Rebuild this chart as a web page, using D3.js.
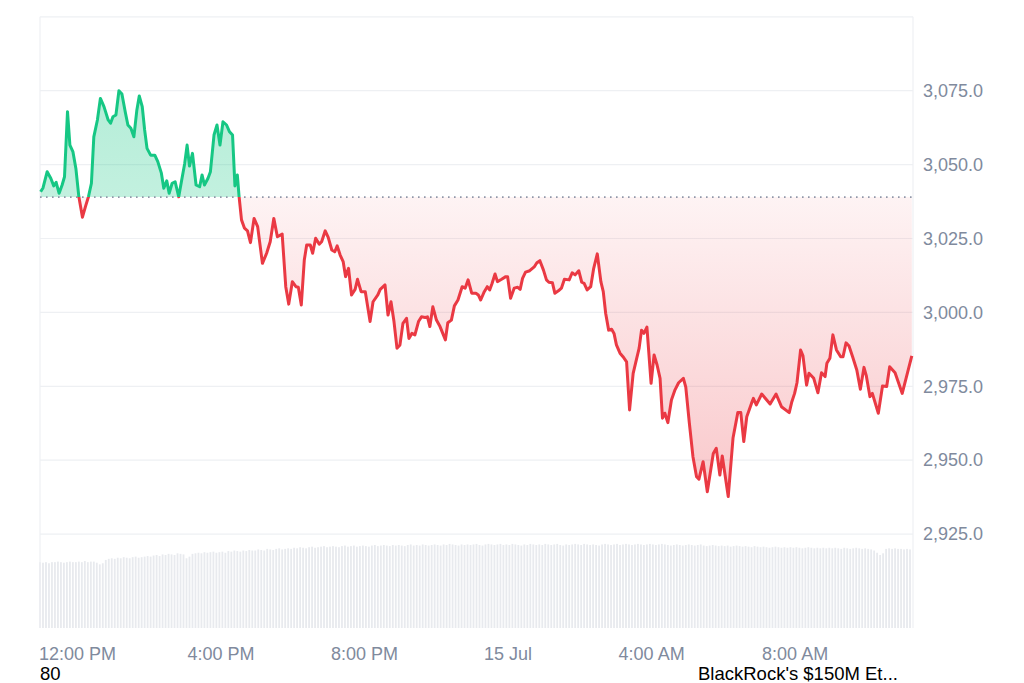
<!DOCTYPE html>
<html><head><meta charset="utf-8">
<script src="https://cdn.jsdelivr.net/npm/d3@7"></script>
<style>html,body{margin:0;padding:0;background:#fff;} svg{display:block;font-family:"Liberation Sans",Arial,Helvetica,sans-serif;}</style>
</head><body><svg id="c" width="1024" height="683"></svg>
<script>
// ---------- data ----------
const startTime = "2024-07-14T10:58:00";
const endMinutes = 1460;               // visible span in minutes
const baselinePrice = 3039.0;          // reference (dotted) price

const minutes = [1,5,12,18,23,27,32,37,41,46,50,55,60,65,71,76,81,86,90,96,101,107,114,118,122,127,132,137,143,147,152,157,162,166,171,175,179,185,192,197,203,207,212,216,221,226,232,237,242,246,250,255,261,267,271,275,281,285,291,296,301,306,312,317,322,326,330,333,337,342,347,352,358,364,372,
379,385,391,397,405,411,416,422,428,432,437,442,446,452,456,461,467,471,477,482,488,493,497,502,507,511,516,521,527,531,537,544,552,557,565,569,577,582,587,592,597,602,607,613,617,622,627,633,638,644,648,652,657,663,669,678,682,688,693,699,706,711,716,722,729,
733,737,743,748,752,756,761,765,772,779,782,787,793,799,803,807,812,819,827,831,836,842,847,851,857,861,867,872,877,885,890,895,901,906,910,915,921,926,932,938,942,946,951,956,960,964,970,975,981,986,992,998,1002,1006,1010,1015,1022,1027,1032,1037,1041,1045,1050,1056,1062,1068,1076,1080,1086,1092,1098,1102,
1109,1116,1126,1131,1137,1141,1151,1159,1167,1172,1177,1182,1190,1193,1198,1207,1221,1231,1240,1253,1257,1262,1266,1272,1276,1282,1286,1294,1301,1307,1313,1316,1321,1326,1332,1339,1343,1348,1353,1359,1366,1372,1378,1382,1388,1392,1402,1409,1416,1421,1430,1442,1458];

const prices = [3040.8,3042.1,3047.6,3045.4,3042.8,3044.0,3040.3,3043.1,3045.9,3067.9,3056.6,3054.4,3048.7,3039.1,3032.2,3035.8,3039.1,3043.7,3059.4,3065.1,3072.4,3069.6,3065.1,3064.0,3066.2,3066.8,3075.0,3073.9,3067.4,3063.4,3062.3,3059.4,3068.5,3073.2,3069.6,3061.7,3055.5,3053.2,3053.2,3051.0,3047.1,3042.0,3044.5,3040.3,3043.7,3044.2,3039.1,3044.8,3050.4,3056.6,3049.5,3053.8,3043.1,3042.5,3046.5,3043.1,3045.4,3047.6,3060.0,3063.4,3056.6,3064.5,3063.4,3061.1,3060.0,3042.8,3046.5,3039.1,3031.3,3028.5,3027.6,3023.6,3031.8,3029.0,3016.6,
3020.0,3023.9,3031.8,3025.6,3026.5,3008.7,3002.8,3010.4,3008.7,3008.5,3002.5,3017.7,3022.8,3022.8,3020.0,3025.1,3023.1,3023.9,3027.6,3025.4,3021.1,3020.5,3022.5,3019.4,3017.2,3012.1,3014.9,3005.9,3007.8,3011.2,3007.0,3007.0,2996.9,3003.6,3005.9,3007.8,3009.3,2999.1,3003.6,2996.9,2987.9,2989.0,2996.3,2998.0,2991.2,2992.9,2992.4,2996.9,2998.5,2998.3,2998.5,2995.2,3001.9,2997.4,2995.2,2990.7,2996.5,2997.4,3002.2,3004.2,3008.7,3008.2,3011.0,3006.5,3006.5,
3005.9,3004.2,3007.0,3008.7,3007.6,3009.8,3013.0,3010.4,3011.2,3012.1,3012.1,3004.8,3008.2,3008.5,3007.8,3011.5,3013.6,3014.1,3015.5,3016.8,3017.5,3014.3,3011.0,3010.2,3010.0,3006.5,3007.3,3008.2,3011.2,3011.0,3013.4,3012.7,3014.1,3010.2,3009.8,3007.6,3008.7,3014.9,3019.8,3010.4,3007.0,2999.7,2994.0,2994.3,2992.9,2989.0,2986.2,2985.0,2983.3,2967.0,2979.4,2984.5,2987.9,2994.0,2992.9,2995.0,2976.0,2985.6,2982.2,2977.7,2964.2,2965.9,2962.7,2970.4,2973.8,2976.2,2977.7,2974.7,2962.5,2951.2,2944.4,2943.6,
2949.5,2939.3,2952.3,2954.0,2945.0,2951.4,2937.7,2957.5,2966.1,2966.1,2956.3,2964.7,2969.3,2970.9,2968.7,2972.4,2969.0,2972.4,2968.1,2966.1,2969.5,2972.6,2976.2,2987.3,2985.3,2975.4,2979.4,2977.7,2972.8,2979.6,2978.3,2982.8,2984.5,2992.4,2987.3,2985.0,2985.0,2989.7,2988.6,2985.0,2980.5,2974.0,2981.4,2978.5,2971.5,2972.6,2965.9,2975.1,2974.9,2981.6,2979.6,2972.6,2985.3];

const volumeStepMinutes = 5;   // 24h volume (billion USD), one bar every 5 minutes
const volumes = [
11.9,11.8,11.9,11.7,11.9,11.9,12.0,11.9,11.8,11.9,12.0,11.9,
11.9,12.0,11.9,12.1,11.9,12.0,12.0,11.8,11.5,11.7,12.3,12.5,
12.6,12.5,12.7,12.6,12.8,12.7,12.6,12.8,12.9,12.7,12.8,12.9,
13.0,12.9,13.1,13.2,13.0,13.3,13.2,13.4,13.3,13.2,13.5,13.4,
13.3,12.6,12.9,13.4,13.5,13.6,13.5,13.7,13.6,13.7,13.8,13.6,
13.7,13.8,13.6,13.9,13.8,14.0,13.9,13.8,14.0,13.9,14.1,14.0,
14.0,14.2,14.1,14.0,14.3,14.2,14.1,14.3,14.4,14.2,14.3,14.4,
14.3,14.5,14.4,14.6,14.5,14.4,14.6,14.7,14.5,14.6,14.7,14.8,
14.6,14.7,14.8,14.7,14.6,14.8,14.9,14.7,14.8,14.9,14.7,14.8,
14.9,14.8,14.7,14.9,15.0,14.8,14.9,15.0,14.9,14.8,15.0,14.9,
15.0,14.9,14.8,15.0,15.1,14.9,15.0,14.9,15.1,15.0,14.9,15.0,
15.1,15.0,14.9,15.1,15.0,15.2,15.1,15.0,14.9,15.1,15.0,15.1,
15.0,15.1,15.2,15.0,14.9,15.1,15.2,15.1,15.0,15.1,15.2,15.0,
15.1,15.0,15.2,15.1,15.0,14.9,15.1,15.0,15.2,15.1,15.0,15.1,
15.0,15.2,15.1,15.0,15.1,15.2,15.0,14.9,15.1,15.0,15.1,15.2,
15.1,15.0,15.2,15.1,15.0,15.1,15.0,14.9,15.1,15.2,15.1,15.0,
15.1,15.2,15.0,15.1,15.2,15.1,15.0,15.1,15.2,15.1,15.0,15.1,
15.2,15.1,15.0,15.1,15.2,15.1,15.0,14.9,15.0,15.1,15.0,14.9,
15.0,15.1,15.0,14.9,15.0,15.1,14.9,14.8,14.9,15.0,14.9,14.8,
14.9,14.8,14.9,14.7,14.8,14.9,14.8,14.7,14.8,14.7,14.6,14.8,
14.7,14.6,14.7,14.6,14.5,14.6,14.7,14.6,14.5,14.6,14.5,14.6,
14.5,14.6,14.5,14.4,14.5,14.6,14.5,14.4,14.5,14.4,14.5,14.4,
14.5,14.4,14.5,14.4,14.3,14.5,14.4,14.3,14.4,14.5,14.4,14.3,
14.4,14.3,14.2,14.0,13.6,13.2,13.5,14.3,14.4,14.3,14.4,14.3,
14.3,14.2,14.3,14.2];

const yTicks = [2925, 2950, 2975, 3000, 3025, 3050, 3075];
const xTickTimes = ["2024-07-14T12:00:00","2024-07-14T16:00:00","2024-07-14T20:00:00","2024-07-15T00:00:00","2024-07-15T04:00:00","2024-07-15T08:00:00"];
const xTickLabels = ["12:00 PM","4:00 PM","8:00 PM","15 Jul","4:00 AM","8:00 AM"];
const footerLeft = "80";
const footerRight = "BlackRock's $150M Et...";

// ---------- drawing ----------
const svg = d3.select("#c");
const L = 40, R = 913, T = 16.8, B = 534.1, VB = 628, VT = 545;
const t0 = new Date(startTime);
const addMin = m => new Date(t0.getTime() + m * 60000);

const x = d3.scaleTime().domain([t0, addMin(endMinutes)]).range([L, R]);
const y = d3.scaleLinear().domain([2925, 3100]).range([B, T]);
const yv = d3.scaleLinear().domain([0, 15]).range([VB, VT]);

const pts = minutes.map((m, i) => ({t: addMin(m), p: prices[i]}));
const yb = y(baselinePrice);

const defs = svg.append("defs");
defs.append("clipPath").attr("id","above").append("rect").attr("x",0).attr("y",0).attr("width",1024).attr("height",yb);
defs.append("clipPath").attr("id","below").append("rect").attr("x",0).attr("y",yb).attr("width",1024).attr("height",683-yb);
const gR = defs.append("linearGradient").attr("id","gr").attr("gradientUnits","userSpaceOnUse")
  .attr("x1",0).attr("x2",0).attr("y1",yb).attr("y2",y(d3.min(prices)));
gR.append("stop").attr("offset",0).attr("stop-color","#ea3943").attr("stop-opacity",0.06);
gR.append("stop").attr("offset",1).attr("stop-color","#ea3943").attr("stop-opacity",0.28);
const gG = defs.append("linearGradient").attr("id","gg").attr("gradientUnits","userSpaceOnUse")
  .attr("x1",0).attr("x2",0).attr("y1",y(d3.max(prices))).attr("y2",yb);
gG.append("stop").attr("offset",0).attr("stop-color","#16c784").attr("stop-opacity",0.32);
gG.append("stop").attr("offset",1).attr("stop-color","#16c784").attr("stop-opacity",0.26);

// volume bars
svg.append("g").selectAll("rect").data(volumes).join("rect")
  .attr("x", (v,i) => x(addMin(i*volumeStepMinutes)) - 0.9)
  .attr("width", 1.8)
  .attr("y", v => yv(v))
  .attr("height", v => VB - yv(v))
  .attr("fill", "#e8eaee");

// grid + frame
const grid = svg.append("g").attr("stroke","#eef0f3").attr("stroke-width",1.2);
grid.selectAll("line.h").data(yTicks.concat([3100])).join("line")
  .attr("x1",L).attr("x2",R).attr("y1",d=>y(d)).attr("y2",d=>y(d));
grid.append("line").attr("x1",L).attr("x2",L).attr("y1",T).attr("y2",VB);
grid.append("line").attr("x1",R).attr("x2",R).attr("y1",T).attr("y2",VB);

// areas
const area = d3.area().x(d=>x(d.t)).y0(yb).y1(d=>y(d.p));
svg.append("path").datum(pts).attr("d",area).attr("fill","url(#gg)").attr("clip-path","url(#above)");
svg.append("path").datum(pts).attr("d",area).attr("fill","url(#gr)").attr("clip-path","url(#below)");

// baseline dotted
svg.append("line").attr("x1",L).attr("x2",R).attr("y1",yb).attr("y2",yb)
  .attr("stroke","#8f97a8").attr("stroke-width",1.6).attr("stroke-dasharray","1.6 4.4");

// lines
const line = d3.line().x(d=>x(d.t)).y(d=>y(d.p));
svg.append("path").datum(pts).attr("d",line).attr("fill","none").attr("stroke","#16c784")
  .attr("stroke-width",3).attr("stroke-linejoin","round").attr("clip-path","url(#above)");
svg.append("path").datum(pts).attr("d",line).attr("fill","none").attr("stroke","#ea3943")
  .attr("stroke-width",3).attr("stroke-linejoin","round").attr("clip-path","url(#below)");

// y axis
const yAxis = d3.axisRight(y).tickValues(yTicks).tickFormat(d3.format(",.1f")).tickSize(0).tickPadding(10);
const gy = svg.append("g").attr("transform",`translate(${R},0)`).call(yAxis);
gy.select(".domain").remove();
gy.selectAll("text").attr("fill","#808a9d").attr("font-size","18px").attr("font-family","'Liberation Sans',Arial,sans-serif");

// x axis
const xAxis = d3.axisBottom(x).tickValues(xTickTimes.map(s=>new Date(s)))
  .tickFormat((d,i)=>xTickLabels[i]).tickSize(0).tickPadding(0);
const gx = svg.append("g").attr("transform",`translate(0,${VB})`).call(xAxis);
gx.select(".domain").remove();
gx.selectAll("text").attr("fill","#808a9d").attr("font-size","18px").attr("dy",null).attr("y",32)
  .attr("font-family","'Liberation Sans',Arial,sans-serif");

// footer texts
svg.append("text").attr("x",40).attr("y",680).attr("font-size","18.5px").attr("fill","#000").text(footerLeft);
svg.append("text").attr("x",698).attr("y",680).attr("font-size","18.5px").attr("fill","#000").text(footerRight);
</script></body></html>
